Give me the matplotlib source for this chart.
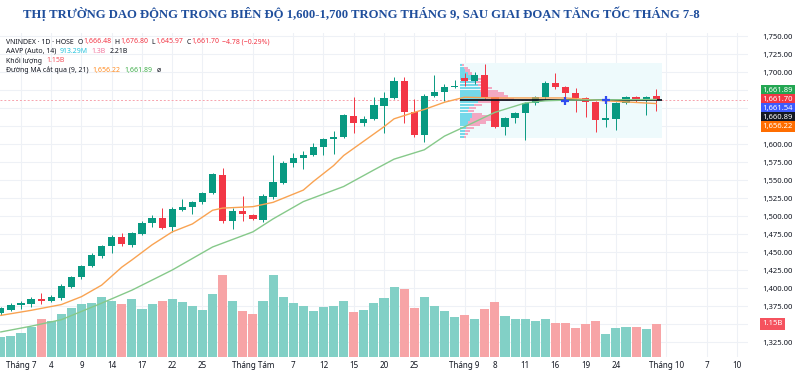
import numpy as np
import matplotlib.pyplot as plt

plt.rcParams['font.family'] = ['Noto Sans', 'DejaVu Sans']

# trading-day index: 0 = 1 July, 63 = 30 Sept (two June bars before)
days = list(range(-2, 64))
opens = [1365, 1370, 1376, 1378, 1385, 1382, 1386, 1401, 1415, 1431, 1444, 1458, 1471, 1460,
         1475, 1490, 1497, 1485, 1508, 1512, 1519, 1532, 1557, 1493, 1507, 1501, 1494, 1526,
         1546, 1574, 1581, 1585, 1596, 1607, 1610, 1639, 1629, 1635, 1653, 1664, 1688, 1644,
         1612, 1667, 1672, 1679, 1692, 1688, 1696, 1665, 1624, 1636, 1643, 1657, 1665, 1685,
         1679, 1671, 1664, 1658, 1633, 1635, 1657, 1665, 1661, 1666.48]
highs = [1374, 1379, 1382, 1387, 1393, 1391, 1405, 1417, 1432, 1448, 1460, 1474, 1476, 1478,
         1493, 1501, 1511, 1512, 1524, 1521, 1533, 1560, 1567, 1511, 1528, 1503, 1530, 1585,
         1576, 1588, 1590, 1601, 1609, 1618, 1642, 1665, 1639, 1665, 1672, 1693, 1693, 1662,
         1669, 1696, 1683, 1689, 1699, 1700, 1711, 1666, 1638, 1645, 1659, 1667, 1687, 1699,
         1681, 1678, 1666, 1660, 1664, 1659, 1667, 1667, 1667, 1676.80]
lows = [1362, 1368, 1371, 1374, 1378, 1380, 1384, 1400, 1413, 1429, 1442, 1449, 1459, 1457,
        1473, 1485, 1482, 1478, 1507, 1503, 1517, 1530, 1490, 1482, 1493, 1494, 1492, 1524,
        1544, 1568, 1565, 1583, 1585, 1586, 1608, 1615, 1625, 1633, 1615, 1662, 1629, 1610,
        1603, 1665, 1660, 1678, 1680, 1684, 1663, 1622, 1612, 1629, 1605, 1654, 1663, 1677,
        1658, 1644, 1637, 1617, 1624, 1619, 1655, 1659, 1640, 1645.97]
closes = [1372, 1376, 1379, 1385, 1382, 1388, 1403, 1415, 1431, 1446, 1458, 1471, 1461, 1476,
          1490, 1497, 1483, 1510, 1512, 1519, 1532, 1558, 1493, 1507, 1503, 1496, 1528, 1547,
          1574, 1581, 1585, 1596, 1607, 1610, 1640, 1629, 1635, 1654, 1664, 1688, 1644, 1612,
          1667, 1672, 1679, 1681, 1688, 1696, 1665, 1624, 1636, 1643, 1657, 1665, 1685, 1679,
          1671, 1664, 1658, 1633, 1636, 1657, 1665, 1661, 1665, 1661.70]
volumes = [0.70, 0.73, 0.84, 1.05, 1.32, 1.25, 1.50, 1.71, 1.85, 1.88, 2.09, 1.95, 1.85, 2.02,
           1.67, 1.85, 1.95, 2.02, 1.92, 1.78, 1.64, 2.20, 2.86, 1.95, 1.60, 1.50, 1.95, 2.86,
           2.09, 1.88, 1.78, 1.60, 1.74, 1.78, 1.95, 1.57, 1.64, 1.88, 2.06, 2.44, 2.37, 1.71,
           2.09, 1.78, 1.60, 1.39, 1.46, 1.32, 1.67, 1.92, 1.43, 1.32, 1.32, 1.25, 1.32, 1.18,
           1.18, 1.01, 1.15, 1.25, 0.80, 1.01, 1.05, 1.05, 0.98, 1.15]

ma9_x = [-2, 1, 4, 6, 8, 10, 11, 13, 15, 17, 19, 20, 23, 25, 28, 29, 31, 32, 35, 36, 37, 39,
         40, 42, 44, 47, 54, 58, 63]
ma9_v = [1362, 1369, 1377, 1388, 1404, 1429, 1439, 1460, 1478, 1489, 1508, 1511, 1513, 1519,
         1536, 1548, 1570, 1584, 1614, 1624, 1635, 1644, 1648, 1658, 1665, 1664, 1664, 1660,
         1656.22]
ma21_x = [-2, 1, 4, 8, 11, 15, 19, 23, 25, 28, 32, 35, 37, 40, 42, 44, 47, 50, 52, 54, 63]
ma21_v = [1339, 1347, 1356, 1379, 1397, 1425, 1457, 1478, 1496, 1520, 1541, 1564, 1579, 1592,
          1611, 1624, 1644, 1657, 1660, 1661, 1661.89]
cross_x = [54, 58]
cross_v = [1659.5, 1661.54]

# fixed-range volume profile, September
prof_price = [1610, 1614, 1618, 1622, 1626, 1630, 1634, 1638, 1642, 1646, 1650, 1654, 1658,
              1662, 1666, 1670, 1674, 1678, 1682, 1686, 1690, 1694, 1698, 1702, 1706, 1710]
prof_up = [4, 5, 5, 6, 7, 8, 10, 12, 12, 8, 9, 14, 18, 25, 24, 22, 20, 20, 18, 16, 14, 12, 8,
           5, 4, 2]
prof_down = [2, 3, 5, 8, 13, 18, 22, 22, 10, 6, 7, 8, 22, 29, 24, 22, 18, 12, 6, 6, 8, 6, 4,
             5, 4, 2]
poc = 1660.89

price_ticks = [1325, 1350, 1375, 1400, 1425, 1450, 1475, 1500, 1525, 1550, 1575, 1600, 1625,
               1650, 1675, 1700, 1725, 1750]
hidden_ticks = [1350, 1625, 1650]   # covered by the value tags on the right
x_ticks = [0, 3, 6, 9, 12, 15, 18, 23, 27, 30, 33, 36, 39, 44, 47, 50, 53, 56, 59, 64, 68, 71]
x_labels = ['Tháng 7', '4', '9', '14', '17', '22', '25', 'Tháng Tám', '7', '12', '15', '20',
            '25', 'Tháng 9', '8', '11', '16', '19', '24', 'Tháng 10', '7', '10']

UP, DN = '#089981', '#f23645'
W, H = 800, 382

fig = plt.figure(figsize=(8, 3.82), dpi=100)
pos = [0, 1 - 357 / H, 748 / W, (357 - 33) / H]
axg = fig.add_axes(pos)
axv = fig.add_axes(pos, sharex=axg)
ax = fig.add_axes(pos, sharex=axg, sharey=axg)
axg.set_zorder(0)
axv.set_zorder(1)
ax.set_zorder(2)
for a in (axv, ax):
    a.patch.set_visible(False)
for a in (axg, axv, ax):
    for s in a.spines.values():
        s.set_visible(False)

ax.set_xlim(-2.08, 72.1)
ax.set_ylim(1304.2, 1754.2)
axv.set_ylim(0, 11.29)
axv.set_yticks([])
axv.tick_params(labelbottom=False, length=0)

# grid
axg.set_yticks(price_ticks)
axg.grid(True, color='#eef1f6', lw=0.8)
axg.tick_params(labelbottom=False, labelleft=False, length=0)

# volume
o = np.array(opens)
c = np.array(closes)
is_up = c >= o
axv.bar(days, volumes, width=0.9, color=np.where(is_up, '#82d0c6', '#f7a4a6'))

# profile background + rows
ax.add_patch(plt.Rectangle((43.5, 1608.3), 20.1, 104.2, color='#eefafc', zorder=0.5, lw=0))
pu = np.array(prof_up) * 0.1
pd_ = np.array(prof_down) * 0.1
ax.barh(prof_price, pu, left=43.5, height=3.3, color='#5fd3e6', alpha=0.85, zorder=1)
ax.barh(prof_price, pd_, left=43.5 + pu, height=3.3, color='#f59ab8', alpha=0.85, zorder=1)

# candles
cols = np.where(is_up, UP, DN)
ax.vlines(days, lows, highs, colors=cols, lw=0.7, zorder=2)
ax.bar(days, np.maximum(np.abs(c - o), 0.8), bottom=np.minimum(o, c), width=0.72,
       color=cols, zorder=3)

ax.hlines(poc, 43.5, 63.6, color='#131722', lw=1.3, zorder=4)
ax.axhline(closes[-1], color='#f7a3ad', lw=0.7, ls=(0, (2, 2)), zorder=1.5)

ax.plot(ma9_x, ma9_v, color='#f9a352', lw=1.0, zorder=4)
ax.plot(ma21_x, ma21_v, color='#86c98a', lw=1.0, zorder=4)
ax.plot(cross_x, cross_v, '+', color='#2f4cf0', ms=6, mew=1.6, zorder=5)

# axes ticks
ax.yaxis.tick_right()
ax.set_yticks(price_ticks)
ax.set_yticklabels(['' if v in hidden_ticks else f'{v:,.2f}' for v in price_ticks])
ax.tick_params(axis='y', length=0, pad=10, labelsize=5.5, labelcolor='#131722')
ax.set_xticks(x_ticks)
ax.set_xticklabels(x_labels)
ax.tick_params(axis='x', length=0, pad=3, labelsize=5.8, labelcolor='#131722')
for t in ax.get_xticklabels():
    if t.get_text().startswith('Tháng'):
        t.set_fontweight('bold')

# right-hand value labels
tags = [(1661.89, '#22a652', -9), (1661.70, '#f23645', 0), (1661.54, '#3d5afe', 9),
        (1660.89, '#131722', 18), (1656.22, '#ff6d00', 27)]
for val, colr, dy in tags:
    ax.annotate(f'{val:,.2f}', xy=(1, closes[-1]), xycoords=('axes fraction', 'data'),
                xytext=(10.5, -dy * 0.72), textcoords='offset points', ha='left', va='center',
                fontsize=5.5, color='white', annotation_clip=False,
                bbox=dict(boxstyle='square,pad=0.25', fc=colr, ec='none'))
axv.annotate('1.15B', xy=(1, volumes[-1]), xycoords=('axes fraction', 'data'),
             xytext=(10.5, 0), textcoords='offset points', ha='left', va='center',
             fontsize=5.5, color='white', annotation_clip=False,
             bbox=dict(boxstyle='square,pad=0.3', fc='#f5525e', ec='none'))

# header legend, laid out segment by segment
renderer = fig.canvas.get_renderer()
DARK, RED = '#131722', '#f23645'


def legend_line(y, parts):
    x = 6
    for s, colr, gap in parts:
        t = fig.text(x / W, 1 - y / H, s, fontsize=5.0, color=colr, ha='left', va='center')
        x = t.get_window_extent(renderer).x1 + gap


legend_line(42, [('VNINDEX · 1D · HOSE', DARK, 4), ('O', DARK, 0.5), ('1,666.48', RED, 3),
                 ('H', DARK, 0.5), ('1,676.80', RED, 3), ('L', DARK, 0.5),
                 ('1,645.97', RED, 3), ('C', DARK, 0.5), ('1,661.70', RED, 3),
                 ('−4.78 (−0.29%)', RED, 0)])
legend_line(51.5, [('AAVP (Auto, 14)', DARK, 3), ('913.29M', '#22c3dd', 4),
                   ('1.3B', '#f27aa0', 4), ('2.21B', DARK, 0)])
legend_line(61, [('Khối lượng', DARK, 4), ('1.15B', '#f5525e', 0)])
legend_line(70.5, [('Đường MA cắt qua (9, 21)', DARK, 4), ('1,656.22', '#ff8a1f', 4),
                   ('1,661.89', '#3fae4a', 4), ('ø', DARK, 0)])

fig.text(361 / W, 1 - 14 / H,
         'THỊ TRƯỜNG DAO ĐỘNG TRONG BIÊN ĐỘ 1,600-1,700 TRONG THÁNG 9, SAU GIAI ĐOẠN TĂNG TỐC THÁNG 7-8',
         ha='center', va='center', fontsize=9.1, fontweight='bold', color='#1f4e9c',
         family=['Liberation Serif', 'DejaVu Serif'])

fig.savefig('out.png', dpi=100)
